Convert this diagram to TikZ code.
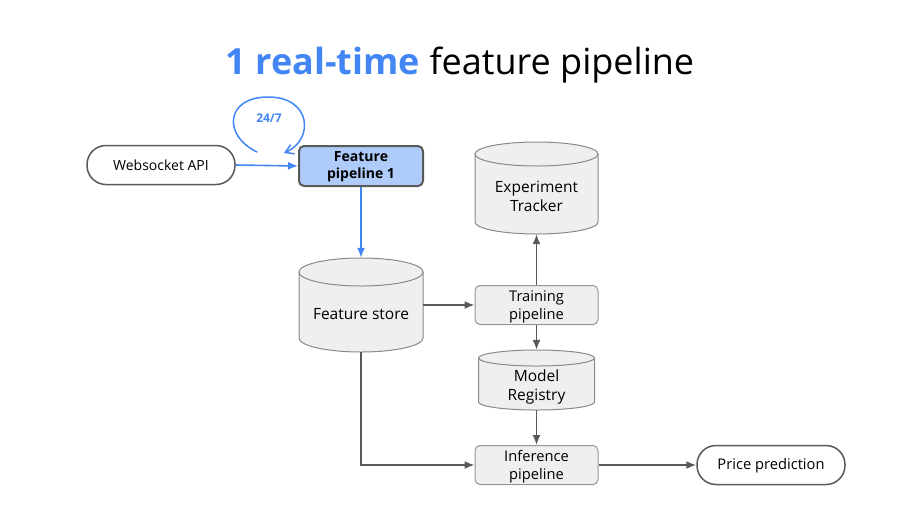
\documentclass[tikz,border=0pt]{standalone}
\usepackage{fontspec}
\setmainfont{Open Sans}
\usetikzlibrary{arrows.meta}
\definecolor{gblue}{HTML}{4285F4}
\definecolor{lblue}{HTML}{AECBFA}
\definecolor{dgray}{HTML}{595959}
\definecolor{mgray}{HTML}{6B6B6B}
\definecolor{lgray}{HTML}{EFEFEF}
\newcommand{\drawcyl}[5]{% cx, top, bottom, rx, ry
  \pgfmathsetmacro{\cL}{#1-#4}\pgfmathsetmacro{\cR}{#1+#4}
  \pgfmathsetmacro{\cT}{#2+#5}\pgfmathsetmacro{\cB}{#3-#5}
  \pgfmathsetmacro{\cBk}{#3-#5+0.5523*#5}
  \pgfmathsetmacro{\cXl}{#1-0.5523*#4}\pgfmathsetmacro{\cXr}{#1+0.5523*#4}
  \filldraw[cylline] (\cL,\cT) -- (\cL,\cB) .. controls (\cL,\cBk) and (\cXl,#3) .. (#1,#3)
     .. controls (\cXr,#3) and (\cR,\cBk) .. (\cR,\cB) -- (\cR,\cT) -- cycle;
  \filldraw[cylline] (#1,\cT) ellipse [x radius=#4pt, y radius=#5pt];
}
\begin{document}
\begin{tikzpicture}[x=1pt,y=-1pt,
  every node/.style={font=\fontsize{14}{18}\selectfont, align=center, inner sep=0pt},
  stadium/.style={draw=dgray, line width=1.5pt, fill=white, rounded corners=19pt, minimum width=148pt, minimum height=39pt},
  procbox/.style={draw=mgray!70, line width=1pt, fill=lgray, rounded corners=5pt, minimum width=123pt, minimum height=39pt},
  boxtext/.style={font=\fontsize{14.7}{18}\selectfont},
  fpbox/.style={draw=dgray, line width=2pt, fill=lblue, rounded corners=5pt, minimum width=124pt, minimum height=40pt},
  fptext/.style={font=\fontsize{14}{17}\selectfont\bfseries},
  cylbox/.style 2 args={minimum width=#1pt, minimum height=#2pt},
  cyltext/.style={font=\fontsize{15.5}{19}\selectfont},
  cylline/.style={draw=mgray!80, line width=1pt, fill=lgray},
  garrow/.style={draw=dgray, line width=1.6pt, -{Latex[length=10pt,width=8pt]}},
  barrow/.style={draw=gblue, line width=1.6pt, -{Latex[length=10pt,width=8pt]}}
]
\useasboundingbox (0,0) rectangle (923,515);

% title
\node (title) at (460,65) {\fontsize{36}{42}\selectfont\textcolor{gblue}{\bfseries 1 real-time} feature pipeline};

% cylinders
\drawcyl{361}{258}{352}{62}{14}
\node[cylbox={124}{94}] (fs) at (361,305) {};
\node[cyltext] (fslbl) at (361,314) {Feature store};

\drawcyl{536.5}{142}{234}{61.5}{12}
\node[cylbox={123}{92}] (et) at (536.5,188) {};
\node[cyltext] (etlbl) at (536.5,196.5) {Experiment\\Tracker};

\drawcyl{536.5}{350}{410}{58}{8}
\node[cylbox={116}{60}] (mr) at (536.5,380) {};
\node[cyltext] (mrlbl) at (536.5,387) {Model\\Registry};

% boxes
\node[stadium] (ws) at (161,165) {Websocket API};
\node[fpbox] (fp) at (361,166) {};
\node[fptext] (fplbl) at (361,167) {Feature\\pipeline 1};
\node[procbox] (tp) at (536.5,305) {};
\node[boxtext] (tplbl) at (536.5,306.5) {Training\\pipeline};
\node[procbox] (ip) at (536.5,465) {};
\node[boxtext] (iplbl) at (536.5,466.5) {Inference\\pipeline};
\node[stadium] (pp) at (771,465) {};
\node[boxtext] (pplbl) at (771,466) {Price prediction};

% connectors
\draw[barrow] (ws.east) -- (fp.west);
\draw[barrow] (fp.south) -- (fs.north);
\draw[garrow] (fs.east) -- (tp.west);
\draw[garrow] (tp.north) -- (et.south);
\draw[garrow] (tp.south) -- (mr.north);
\draw[garrow] (mr.south) -- (ip.north);
\draw[garrow] (fs.south) |- (ip.west);
\draw[garrow] (ip.east) -- (pp.west);

% loop
\coordinate (loopstart) at (257,152);
\coordinate (loopend) at (284,153);
\draw[draw=gblue, line width=1.5pt, line cap=round, -{Straight Barb[length=8pt,width=10pt]}]
  (loopstart) .. controls (222,135) and (226,97) .. (268,97)
  .. controls (312,97) and (314,140) .. (loopend);
\node (loop) at (269,118) {\fontsize{12}{14}\selectfont\bfseries\textcolor{gblue}{24/7}};
\end{tikzpicture}
\end{document}
